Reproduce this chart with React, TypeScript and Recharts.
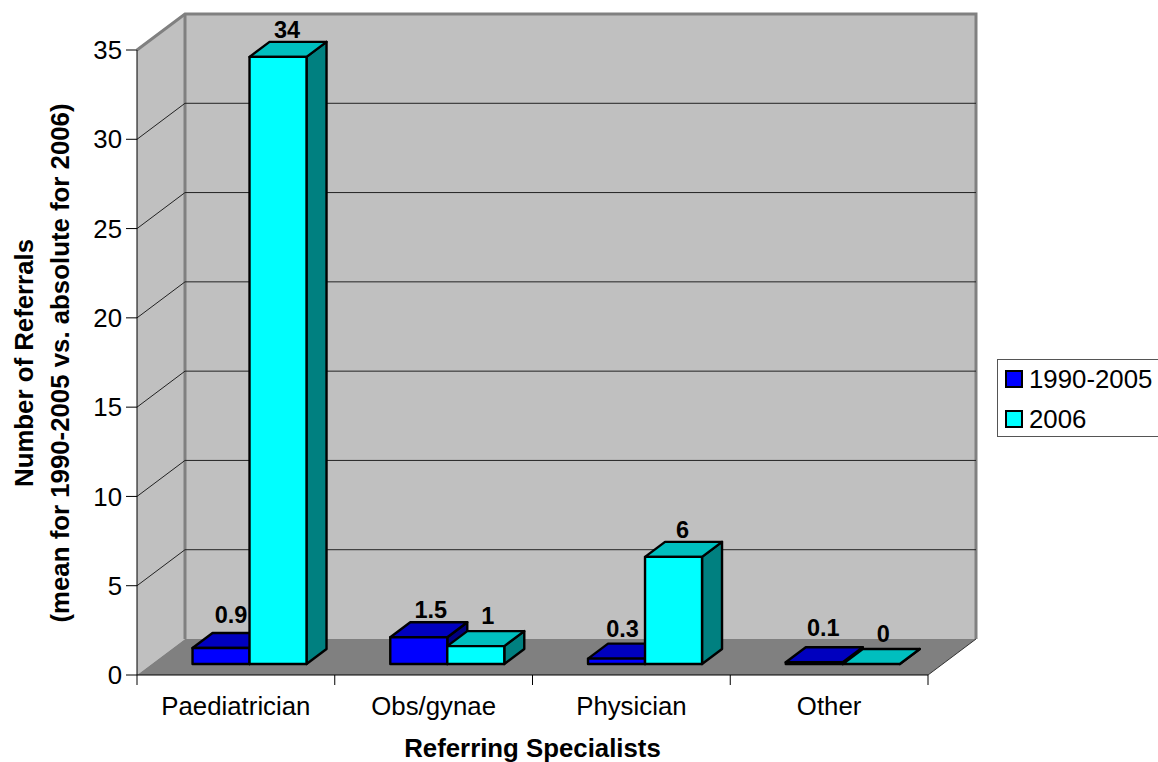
import React from 'react';
import {
  BarChart,
  Bar,
  XAxis,
  YAxis,
  CartesianGrid,
  Legend,
  LabelList
} from 'recharts';

const categories = ['Paediatrician', 'Obs/gynae', 'Physician', 'Other'];
const means1990to2005 = [0.9, 1.5, 0.3, 0.1];
const absolute2006 = [34, 1, 6, 0];
const valueTicks = [0, 5, 10, 15, 20, 25, 30, 35];

const chartData = categories.map((name, i) => ({
  name,
  '1990-2005': means1990to2005[i],
  '2006': absolute2006[i]
}));

// value label placement: height above the box's front top edge, and sideways nudge
const lift1990 = [33, 27, 30, 34];
const lift2006 = [27, 30, 27, 30];
const nudge1990 = [10, 12, 6, 9];
const nudge2006 = [9, 12, 9, 12];

const FONT = '"Liberation Sans", Arial, sans-serif';
const TEXT_SIZE = 25.8;
const WIDTH = 1158;
const HEIGHT = 762;
const PLOT = { left: 137, top: 50, width: 791, height: 625 };
const PLOT_RIGHT = PLOT.left + PLOT.width;
const PLOT_BOTTOM = PLOT.top + PLOT.height;
const BAND = PLOT.width / categories.length;

// wall and floor depth, then the box depth and where boxes sit on the floor
const WALL_DX = 48;
const WALL_DY = 36;
const BOX_DX = 20;
const BOX_DY = 15;
const BOX_SHIFT_X = 14;
const BOX_SHIFT_Y = 11;

const pts = (list: number[][]) => list.map(p => p.join(',')).join(' ');

const Walls = () => {
  const { left, top } = PLOT;
  const backLeft = left + WALL_DX;
  const backRight = PLOT_RIGHT + WALL_DX;
  const backTop = top - WALL_DY;
  const backBottom = PLOT_BOTTOM - WALL_DY;
  return (
    <g>
      <polygon
        points={pts([[left, PLOT_BOTTOM], [backLeft, backBottom], [backLeft, backTop], [left, top]])}
        fill="#c0c0c0"
      />
      <rect x={backLeft} y={backTop} width={backRight - backLeft} height={backBottom - backTop} fill="#c0c0c0" />
      <polygon
        points={pts([[left, PLOT_BOTTOM], [PLOT_RIGHT, PLOT_BOTTOM], [backRight, backBottom], [backLeft, backBottom]])}
        fill="#808080"
      />
      <polyline
        points={pts([[left, top], [backLeft, backTop], [backRight, backTop], [backRight, backBottom]])}
        fill="none"
        stroke="#808080"
        strokeWidth={3}
      />
      <line x1={backLeft} y1={backTop} x2={backLeft} y2={backBottom} stroke="#808080" strokeWidth={3} />
      <line x1={PLOT_RIGHT} y1={PLOT_BOTTOM} x2={backRight} y2={backBottom} stroke="#333" strokeWidth={1} />
    </g>
  );
};

// gridlines run across the back wall and fold forward along the left wall;
// the first line slot paints the walls so the rest land on top of them
const gridLine = (props: any) => {
  const { y1, index, key } = props;
  if (index === 0) return <Walls key={key} />;
  if (index === valueTicks.length - 1) return <g key={key} />;
  return (
    <polyline
      key={key}
      points={pts([
        [PLOT.left, y1],
        [PLOT.left + WALL_DX, y1 - WALL_DY],
        [PLOT_RIGHT + WALL_DX, y1 - WALL_DY]
      ])}
      fill="none"
      stroke="#222"
      strokeWidth={1}
    />
  );
};

const Box = (props: any) => {
  const { x, y, width, height, fill, topFill, sideFill } = props;
  const fx = x + BOX_SHIFT_X;
  const fy = y - BOX_SHIFT_Y;
  const right = fx + width;
  const bottom = fy + height;
  const edge = { stroke: '#000', strokeWidth: 2.4, strokeLinejoin: 'round' as const };
  return (
    <g>
      <polygon
        points={pts([[right, fy], [right + BOX_DX, fy - BOX_DY], [right + BOX_DX, bottom - BOX_DY], [right, bottom]])}
        fill={sideFill}
        {...edge}
      />
      <polygon
        points={pts([[fx, fy], [fx + BOX_DX, fy - BOX_DY], [right + BOX_DX, fy - BOX_DY], [right, fy]])}
        fill={topFill}
        {...edge}
      />
      <rect x={fx} y={fy} width={width} height={height} fill={fill} {...edge} />
    </g>
  );
};

const valueLabel = (lifts: number[], nudges: number[]) => (props: any) => {
  const { x, y, width, value, index } = props;
  return (
    <text
      x={x + BOX_SHIFT_X + width / 2 + nudges[index]}
      y={y - BOX_SHIFT_Y - lifts[index]}
      textAnchor="middle"
      dominantBaseline="central"
      fontFamily={FONT}
      fontSize={23.5}
      fontWeight="bold"
      fill="#000"
    >
      {value}
    </text>
  );
};

// category text stays centred, tick marks fall on the band boundaries
const CategoryTick = (props: any) => {
  const { x, payload, index } = props;
  const start = x - BAND / 2;
  return (
    <g>
      <line x1={start} y1={PLOT_BOTTOM} x2={start} y2={PLOT_BOTTOM + 10} stroke="#000" />
      {index === categories.length - 1 && (
        <line x1={x + BAND / 2} y1={PLOT_BOTTOM} x2={x + BAND / 2} y2={PLOT_BOTTOM + 10} stroke="#000" />
      )}
      <text x={x} y={PLOT_BOTTOM + 31} textAnchor="middle" dominantBaseline="central" fontFamily={FONT} fontSize={TEXT_SIZE} fill="#000">
        {payload.value}
      </text>
    </g>
  );
};

const YTitle = () => {
  const cy = PLOT.top + 313;
  const title = { textAnchor: 'middle' as const, dominantBaseline: 'central' as const, fontFamily: FONT, fontSize: TEXT_SIZE, fontWeight: 'bold', fill: '#000' };
  return (
    <g>
      <text x={24} y={cy} transform={`rotate(-90 24 ${cy})`} {...title}>
        Number of Referrals
      </text>
      <text x={60} y={cy} transform={`rotate(-90 60 ${cy})`} {...title}>
        (mean for 1990-2005 vs. absolute for 2006)
      </text>
    </g>
  );
};

const XTitle = () => (
  <text
    x={PLOT.left + PLOT.width / 2}
    y={748}
    textAnchor="middle"
    dominantBaseline="central"
    fontFamily={FONT}
    fontSize={TEXT_SIZE}
    fontWeight="bold"
    fill="#000"
  >
    Referring Specialists
  </text>
);

const LegendBox = ({ payload }: any) => (
  <div
    style={{
      boxSizing: 'border-box',
      height: 78,
      width: 161,
      background: '#fff',
      borderTop: '1px solid #555',
      borderBottom: '1px solid #555',
      borderLeft: '1px solid #555',
      fontFamily: FONT,
      fontSize: TEXT_SIZE,
      color: '#000'
    }}
  >
    {(payload || []).map((entry: any, i: number) => (
      <div key={entry.value} style={{ position: 'absolute', left: 8, top: 10 + i * 39.5, height: 20, display: 'flex', alignItems: 'center' }}>
        <span style={{ boxSizing: 'border-box', width: 18, height: 18, background: entry.color, border: '2px solid #000', marginRight: 6 }} />
        <span style={{ lineHeight: '20px' }}>{entry.value}</span>
      </div>
    ))}
  </div>
);

export default function App() {
  return (
    <div style={{ position: 'absolute', left: 0, top: 0, width: WIDTH, height: HEIGHT, overflow: 'hidden', background: '#fff' }}>
      <BarChart
        width={WIDTH}
        height={HEIGHT}
        data={chartData}
        margin={{ top: PLOT.top, right: 69, bottom: 0, left: 0 }}
        barCategoryGap="21%"
        barGap={0}
      >
        <CartesianGrid vertical={false} horizontal={gridLine} />
        <XAxis
          dataKey="name"
          height={HEIGHT - PLOT_BOTTOM}
          axisLine={{ stroke: '#000' }}
          tickLine={false}
          interval={0}
          tick={CategoryTick}
          label={{ content: XTitle }}
        />
        <YAxis
          width={PLOT.left}
          domain={[0, 35]}
          ticks={valueTicks}
          interval={0}
          axisLine={{ stroke: '#000' }}
          tickLine={{ stroke: '#000' }}
          tickSize={11}
          tickMargin={4}
          tick={{ fontFamily: FONT, fontSize: TEXT_SIZE, fill: '#000' }}
          label={{ content: YTitle }}
        />
        <Legend
          layout="vertical"
          align="right"
          verticalAlign="middle"
          content={LegendBox}
          wrapperStyle={{ left: 997, top: 359, width: 161, height: 78 }}
        />
        <Bar
          dataKey="1990-2005"
          fill="#0000ff"
          isAnimationActive={false}
          shape={(p: any) => <Box {...p} topFill="#0000bf" sideFill="#000080" />}
        >
          <LabelList dataKey="1990-2005" content={valueLabel(lift1990, nudge1990)} />
        </Bar>
        <Bar
          dataKey="2006"
          fill="#00ffff"
          isAnimationActive={false}
          shape={(p: any) => <Box {...p} topFill="#00bfbf" sideFill="#008080" />}
        >
          <LabelList dataKey="2006" content={valueLabel(lift2006, nudge2006)} />
        </Bar>
      </BarChart>
    </div>
  );
}
